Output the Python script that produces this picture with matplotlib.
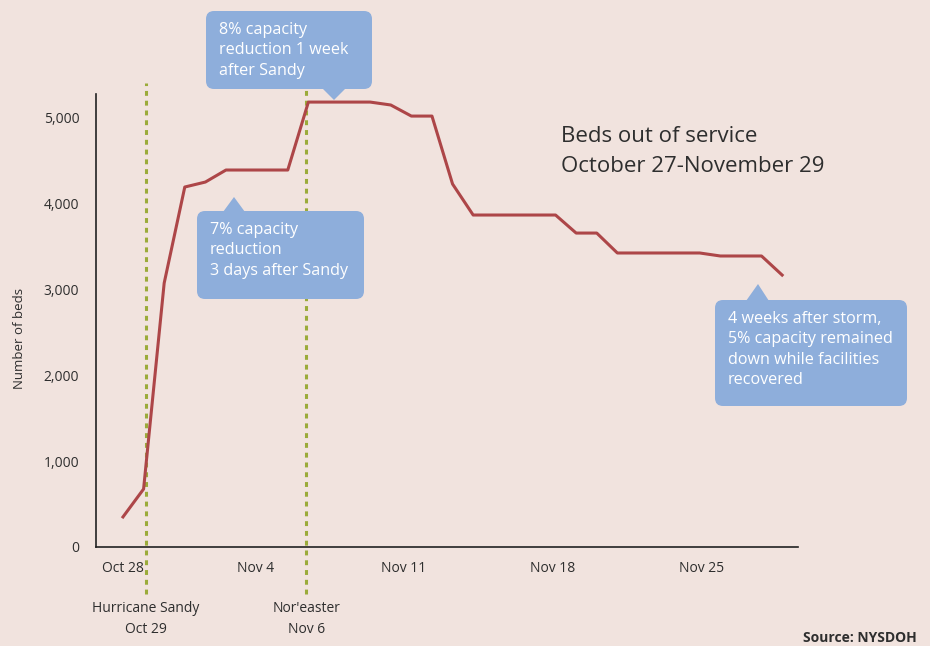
import matplotlib
matplotlib.use("Agg")
import matplotlib.pyplot as plt
from matplotlib.patches import FancyBboxPatch, Polygon
from matplotlib.transforms import IdentityTransform
import numpy as np

plt.rcParams["font.family"] = ["Open Sans", "DejaVu Sans"]

# data: one value per day, day 0 = Oct 27
days = list(range(33))
beds = [350, 675, 3073, 4191, 4249, 4389, 4389, 4389, 4389,
        5180, 5180, 5180, 5180, 5146, 5017, 5017, 4226,
        3865, 3865, 3865, 3865, 3865, 3655, 3655,
        3423, 3423, 3423, 3423, 3423, 3388, 3388, 3388, 3166]

tick_pos = [0, 6.45, 13.6, 20.85, 28.1]
tick_labels = ["Oct 28", "Nov 4", "Nov 11", "Nov 18", "Nov 25"]
yticks = [0, 1000, 2000, 3000, 4000, 5000]

events_x = [1.1, 8.9]
events_txt = ["Hurricane Sandy\nOct 29", "Nor'easter\nNov 6"]

bg = "#f1e3de"
red = "#ad4648"
olive = "#9bab3a"
blue = "#8eaedb"
dark = "#2e2e2e"

W, H = 930, 646
fig = plt.figure(figsize=(W / 100, H / 100), dpi=100, facecolor=bg)
ax = fig.add_axes([96 / W, 1 - 547 / H, (798 - 96) / W, (547 - 94) / H])
ax.set_facecolor(bg)

ax.plot(days, beds, color=red, lw=2.2, zorder=3)

ax.set_xlim(-1.31, 32.77)
ax.set_ylim(0, 5274)
ax.set_xticks(tick_pos)
ax.set_xticklabels(tick_labels)
ax.set_yticks(yticks)
ax.set_yticklabels(["{:,}".format(v) for v in yticks])
ax.tick_params(length=0, labelsize=10, colors=dark, pad=10)
ax.tick_params(axis="y", pad=12)
for s in ["top", "right"]:
    ax.spines[s].set_visible(False)
for s in ["left", "bottom"]:
    ax.spines[s].set_color("#222222")
    ax.spines[s].set_linewidth(1.2)

ax.set_ylabel("Number of beds", fontsize=9.5, color=dark)
ax.yaxis.set_label_coords(-0.1, 0.46)

# event lines going below the axis
for ex, et in zip(events_x, events_txt):
    ax.axvline(ex, ymin=-0.104, ymax=1.024, color=olive, lw=2.2,
               ls=(0, (1.6, 1.6)), clip_on=False, zorder=2)
    ax.annotate(et, xy=(ex, 0), xycoords=("data", "axes fraction"),
                xytext=(0, -54), textcoords="offset pixels",
                ha="center", va="top", fontsize=10, color=dark,
                linespacing=1.55)

# title
fig.text(561 / W, 1 - 137 / H, "Beds out of service", fontsize=16,
         color=dark, va="center")
fig.text(561 / W, 1 - 166 / H, "October 27-November 29", fontsize=16,
         color=dark, va="center")

fig.text(917 / W, 1 - 638 / H, "Source: NYSDOH", fontsize=10,
         fontweight="bold", color=dark, ha="right", va="center")

# callout boxes (pixel layout, top-left origin)
def callout(x0, y0, x1, y1, tri, text):
    T = IdentityTransform()
    box = FancyBboxPatch((x0 + 8, H - y1 + 8), x1 - x0 - 16, y1 - y0 - 16,
                         boxstyle="round,pad=8", fc=blue, ec="none",
                         transform=T, zorder=10)
    fig.add_artist(box)
    pts = [(px, H - py) for px, py in tri]
    fig.add_artist(Polygon(pts, closed=True, fc=blue, ec="none",
                           transform=T, zorder=10))
    fig.text((x0 + 13) / W, 1 - (y0 + 11) / H, text, fontsize=11.6,
             color="white", va="top", ha="left", linespacing=1.36,
             zorder=11)

callout(206, 11, 372, 89, [(322, 88), (346, 88), (334, 100)],
        "8% capacity\nreduction 1 week\nafter Sandy")
callout(197, 211, 364, 299, [(223, 212), (245, 212), (234, 197)],
        "7% capacity\nreduction\n3 days after Sandy")
callout(715, 300, 907, 406, [(746, 301), (769, 301), (758, 284)],
        "4 weeks after storm,\n5% capacity remained\ndown while facilities\nrecovered")

fig.savefig("out.png", dpi=100, facecolor=bg)
